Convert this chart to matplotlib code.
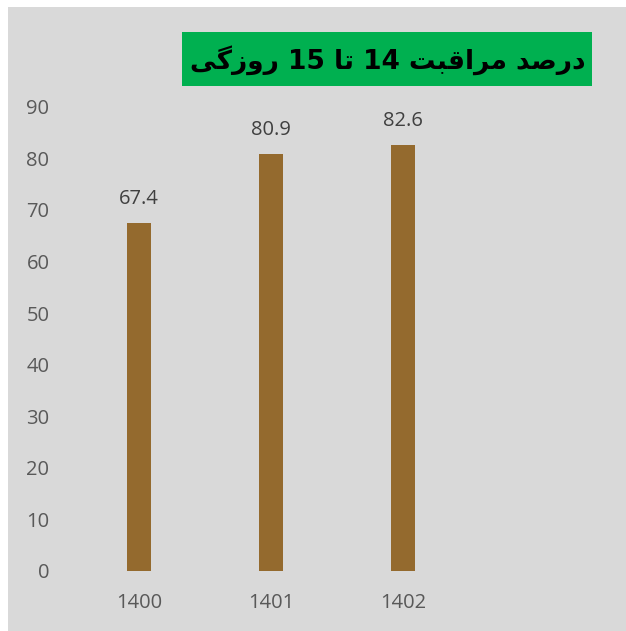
import matplotlib
matplotlib.use("Agg")
import matplotlib.pyplot as plt
from matplotlib.patches import Rectangle

# Data
years = ["1400", "1401", "1402"]
values = [67.4, 80.9, 82.6]
yticks = [0, 10, 20, 30, 40, 50, 60, 70, 80, 90]
# Title: "درصد مراقبت 14 تا 15 روزگی" in visual order with Arabic presentation forms
title = "\uFBFD\uFB94\uFEAF\uFEED\uFEAD 15 \uFE8E\uFE97 14 \uFE96\uFE92\uFED7\uFE8D\uFEAE\uFEE3 \uFEAA\uFEBB\uFEAD\uFEA9"

W, H = 626, 631
fig = plt.figure(figsize=(W / 100, H / 100), dpi=100)
fig.patch.set_facecolor("white")
bg = Rectangle((8 / W, 0), 1 - 8 / W, 1 - 7 / H, transform=fig.transFigure,
               facecolor="#d9d9d9", edgecolor="none", zorder=-10)
fig.patches.append(bg)

ax = fig.add_axes([73 / W, (H - 571) / H, 528 / W, (571 - 106.6) / H])
ax.set_facecolor("none")
x = list(range(len(years)))
bars = ax.bar(x, values, width=0.175, color="#946a2e", zorder=2)
ax.set_xlim(-0.5, 3.5)
ax.set_ylim(0, 90)
ax.set_yticks(yticks)
ax.set_yticklabels([str(v) for v in yticks])
ax.set_xticks(x)
ax.set_xticklabels(years)
for s in ax.spines.values():
    s.set_visible(False)
ax.tick_params(axis="both", length=0, labelsize=14.5, labelcolor="#595959")
ax.tick_params(axis="y", pad=17)
ax.tick_params(axis="x", pad=16)
for lab in ax.get_xticklabels() + ax.get_yticklabels():
    lab.set_fontfamily("Open Sans")

for xi, v in zip(x, values):
    ax.annotate(f"{v:.1f}", (xi, v), xytext=(0, 10), textcoords="offset points",
                ha="center", va="bottom", fontsize=14.5, color="#404040",
                family="Open Sans", annotation_clip=False)

# Title box
box = Rectangle((182 / W, 1 - 86 / H), (592 - 182) / W, (86 - 32) / H,
                transform=fig.transFigure, facecolor="#00b050", edgecolor="none")
fig.patches.append(box)
fig.text(388 / W, 1 - 60 / H, title, ha="center", va="center", fontsize=19,
         fontweight="bold", color="black", family=["DejaVu Sans"])

fig.savefig("out.png", dpi=100)
